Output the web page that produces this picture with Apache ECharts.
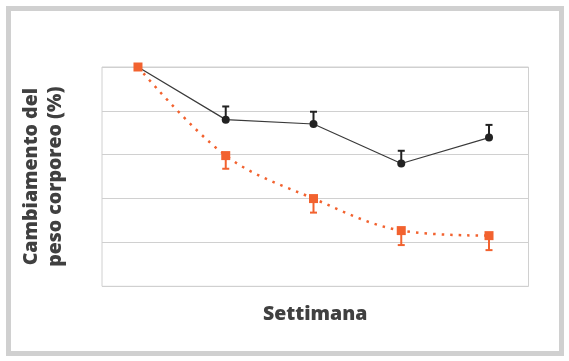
<!DOCTYPE html>
<html>
<head>
<meta charset="utf-8">
<script src="https://cdn.jsdelivr.net/npm/echarts@6/dist/echarts.min.js"></script>
<style>
html,body{margin:0;padding:0;background:#fff;}
#c{width:569px;height:361px;}
</style>
</head>
<body>
<div id="c"></div>
<script>
// Data
var weeks = [0, 1, 2, 3, 4];
var controlValues = [0, -1.20, -1.30, -2.20, -1.61];
var controlErrors = [0, 0.30, 0.28, 0.29, 0.29];     // upward bars
var treatedValues = [0, -2.02, -3.00, -3.73, -3.845];
var treatedErrors = [0, 0.30, 0.32, 0.33, 0.33];     // downward bars
var yAxisName = 'Cambiamento del\npeso corporeo (%)';
var xAxisName = 'Settimana';

var BLACK = '#222222';
var ORANGE = '#F2622F';
var FONT = '"Open Sans", "Noto Sans", sans-serif';

function pairs(vals) {
  return weeks.map(function (w, i) { return [w, vals[i]]; });
}
function errData(vals, errs, dir) {
  return weeks.map(function (w, i) { return [w, vals[i], vals[i] + dir * errs[i]]; })
    .filter(function (d, i) { return errs[i] > 0; });
}
function errRender(color) {
  return function (params, api) {
    var p0 = api.coord([api.value(0), api.value(1)]);
    var p1 = api.coord([api.value(0), api.value(2)]);
    var cap = 3.5;
    return {
      type: 'group',
      children: [
        { type: 'line', shape: { x1: p0[0], y1: p0[1], x2: p1[0], y2: p1[1] },
          style: { stroke: color, lineWidth: 2 } },
        { type: 'line', shape: { x1: p1[0] - cap, y1: p1[1], x2: p1[0] + cap, y2: p1[1] },
          style: { stroke: color, lineWidth: 2 } }
      ]
    };
  };
}

var chart = echarts.init(document.getElementById('c'), null, { renderer: 'canvas' });
chart.setOption({
  animation: false,
  backgroundColor: '#ffffff',
  graphic: [{
    type: 'rect',
    shape: { x: 8.5, y: 8.5, width: 553, height: 345 },
    style: { fill: 'none', stroke: '#d0d0d0', lineWidth: 5 },
    silent: true, z: -1
  }],
  grid: {
    left: 102, top: 67, right: 40.5, bottom: 74.7,
    show: true, borderColor: '#d0d0d0', borderWidth: 1, backgroundColor: 'transparent'
  },
  xAxis: {
    type: 'value', min: -0.41, max: 4.45,
    name: xAxisName, nameLocation: 'middle', nameGap: 18,
    nameTextStyle: { fontFamily: FONT, fontWeight: 800, fontSize: 19.5, color: '#404040' },
    axisLine: { show: false }, axisTick: { show: false }, axisLabel: { show: false },
    splitLine: { show: false }
  },
  yAxis: {
    type: 'value', min: -5, max: 0, interval: 1,
    name: yAxisName, nameLocation: 'middle', nameGap: 35, nameRotate: 90,
    nameTextStyle: { fontFamily: FONT, fontWeight: 800, fontSize: 19.5, color: '#404040', lineHeight: 24, align: 'center' },
    axisLine: { show: false }, axisTick: { show: false }, axisLabel: { show: false },
    splitLine: { show: true, lineStyle: { color: '#d0d0d0', width: 1 } }
  },
  series: [
    {
      type: 'custom', name: 'errTreated', renderItem: errRender(ORANGE),
      data: errData(treatedValues, treatedErrors, -1), encode: { x: 0, y: [1, 2] }, z: 2
    },
    {
      type: 'custom', name: 'errControl', renderItem: errRender(BLACK),
      data: errData(controlValues, controlErrors, 1), encode: { x: 0, y: [1, 2] }, z: 2
    },
    {
      type: 'line', name: 'Controllo', data: pairs(controlValues),
      symbol: 'circle', symbolSize: 8,
      itemStyle: { color: BLACK },
      lineStyle: { color: '#3a3a3a', width: 1.2 }, z: 3
    },
    {
      type: 'line', name: 'Trattato', data: pairs(treatedValues),
      smooth: 0.35, symbol: 'rect', symbolSize: 9,
      itemStyle: { color: ORANGE },
      lineStyle: { color: ORANGE, width: 2.5, type: [2.5, 6] }, z: 4
    }
  ]
});
</script>
</body>
</html>
